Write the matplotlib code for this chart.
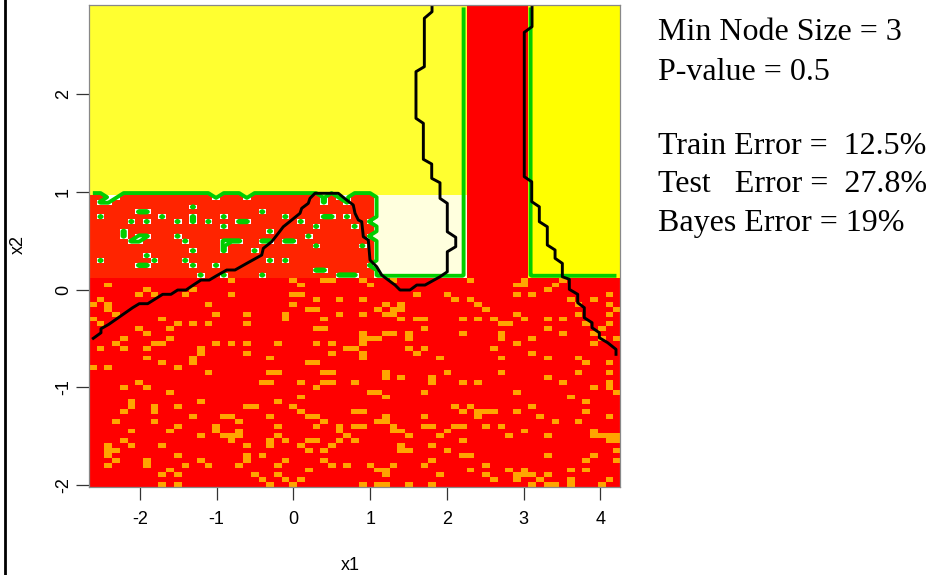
import numpy as np
import matplotlib
matplotlib.use("Agg")
import matplotlib.pyplot as plt
from matplotlib.lines import Line2D

plt.rcParams['font.family'] = ['Liberation Sans', 'DejaVu Sans']
plt.rcParams['axes.unicode_minus'] = False

# prediction grid: 69 columns (x1) by 99 rows (x2)
n_cols, n_rows = 69, 99
x_lo, x_hi = -2.663, 4.259
y_lo, y_hi = -2.020, 2.915

# node regions, in grid cells
low_rows = 43          # rows 0..42: red node
band_top = 60          # rows 43..59: middle band
band_left_cols = 37    # cols 0..36: red-orange node inside the band
strip_cols = (49, 57)  # red vertical strip
right_cols = 57        # cols 57..68: right yellow node

# orange cells in the red node, listed from the top row (x2 ~ 0.1) downwards
orange_cells = [
    [18, 26, 30, 31, 35, 39, 49, 56, 61],
    [2, 27, 36, 55, 56, 60],
    [7, 13, 59],
    [6, 8, 12, 18, 26, 27, 42, 46, 55, 57, 67],
    [1, 29, 32, 35, 47, 49, 62, 65],
    [0, 2, 15, 26, 38, 40, 50, 63, 67],
    [2, 28, 29, 37, 39, 40, 51, 68],
    [3, 16, 20, 25, 32, 35, 38, 39, 55, 63, 67],
    [0, 9, 25, 30, 40, 42, 43, 48, 50, 52, 56, 59, 61],
    [1, 11, 13, 15, 20, 53, 54, 64, 67],
    [6, 10, 29, 30, 43, 59, 66],
    [7, 35, 38, 39, 41, 48, 53, 61, 65],
    [4, 10, 35, 36, 37, 41, 53, 57, 66, 68],
    [3, 8, 9, 16, 18, 20, 24, 29, 31, 35, 55, 65],
    [1, 4, 7, 14, 33, 34, 41, 43, 52],
    [14, 20, 31, 35, 42, 57],
    [7, 13, 23, 35, 45, 53, 59, 63],
    [9, 13, 28, 29, 64, 67],
    [0, 2, 11],
    [15, 23, 24, 30, 31, 38, 46, 53, 63, 67],
    [38, 40, 44, 59],
    [6, 22, 23, 27, 30, 31, 34, 44, 48, 50, 61, 67],
    [4, 7, 29, 65, 67],
    [10, 36, 37, 43, 55, 68],
    [27, 38, 62],
    [5, 14, 24, 64],
    [5, 8, 11, 20, 21, 26, 47, 49, 57],
    [4, 8, 27, 34, 35, 48, 50, 51, 52, 55, 64],
    [13, 17, 18, 23, 28, 29, 38, 43, 50, 58, 67],
    [3, 8, 19, 30, 37, 38, 60, 63],
    [11, 16, 24, 29, 32, 34, 35, 39, 43, 44, 47, 48, 51, 53],
    [5, 10, 16, 19, 32, 39, 40, 46, 56, 65],
    [14, 17, 18, 19, 24, 33, 41, 45, 54, 59, 65, 66, 67, 68],
    [4, 18, 23, 25, 28, 29, 32, 34, 48, 67, 68],
    [2, 5, 9, 20, 23, 27, 31, 40, 44],
    [2, 3, 28, 30, 40, 41, 46, 68],
    [2, 11, 20, 22, 48, 49, 59, 65],
    [3, 7, 14, 20, 25, 30, 44, 64, 68],
    [2, 7, 12, 15, 19, 24, 31, 33, 36, 39, 43, 51],
    [10, 28, 37, 38, 49, 54, 56, 62, 64],
    [9, 11, 21, 24, 38, 45, 51, 55, 56, 57, 59],
    [22, 25, 27, 52, 55, 58, 62, 67],
    [9, 11, 23, 26, 35, 37, 38, 41, 44, 57, 59, 60, 62, 66],
]

# white (class 1) cells inside the red-orange node, from its top row downwards
white_cells = [
    [2, 3, 16, 20, 30, 32, 33],
    [1, 2, 30, 33],
    [13],
    [6, 7, 22],
    [1, 9, 13, 17, 25, 30, 31, 33],
    [5, 7, 11, 13, 15, 19, 20, 27, 36],
    [17, 29, 34],
    [4, 23],
    [4, 6, 7, 11, 28, 36],
    [5, 6, 12, 17, 18, 19, 22, 23, 25, 26],
    [17, 29, 35],
    [13, 17, 21],
    [7],
    [1, 8, 12, 23, 25],
    [6, 7, 13, 16, 36],
    [29, 30],
    [14, 17, 22, 32, 33, 34],
]

# Bayes decision boundary, two pieces
bayes1_x = [-2.607, -2.507, -2.507, -2.406, -2.094, -2.008, -1.898, -1.703, -1.595,
            -1.508, -1.399, -1.291, -1.204, -1.096, -1.008, -0.869, -0.761, -0.608,
            -0.413, -0.392, -0.283, -0.197, -0.132, -0.022, 0.086, 0.108, 0.194,
            0.216, 0.281, 0.585, 0.694, 0.780, 0.803, 0.846, 0.890, 0.911, 0.976,
            0.998, 1.085, 1.150, 1.236, 1.324, 1.389, 1.519, 1.607, 1.715, 1.910,
            2.005, 2.005, 2.115, 2.115, 2.005, 2.005, 1.910, 1.910, 1.802, 1.802,
            1.693, 1.693, 1.597, 1.597, 1.706, 1.706, 1.806, 1.806]
bayes1_y = [-0.500, -0.443, -0.402, -0.357, -0.186, -0.145, -0.145, -0.049, -0.049,
            -0.005, -0.005, 0.053, 0.097, 0.097, 0.138, 0.200, 0.200, 0.268,
            0.353, 0.422, 0.490, 0.576, 0.643, 0.712, 0.781, 0.832, 0.883,
            0.934, 0.986, 0.986, 0.917, 0.866, 0.781, 0.712, 0.695, 0.541, 0.507,
            0.302, 0.234, 0.149, 0.097, 0.046, -0.005, -0.005, 0.046, 0.046, 0.131,
            0.182, 0.387, 0.439, 0.535, 0.592, 0.883, 0.934, 1.094, 1.139, 1.286,
            1.334, 1.703, 1.754, 2.232, 2.283, 2.779, 2.846, 2.898]
bayes2_x = [3.109, 3.109, 3.008, 3.008, 3.105, 3.105, 3.204, 3.204, 3.308, 3.308,
            3.409, 3.409, 3.504, 3.504, 3.595, 3.595, 3.704, 3.704, 3.790, 3.790,
            3.891, 3.891, 3.986, 3.986, 4.095, 4.203, 4.203]
bayes2_y = [2.898, 2.693, 2.635, 1.156, 1.104, 0.900, 0.848, 0.695, 0.643, 0.456,
            0.405, 0.320, 0.268, 0.131, 0.105, 0.002, -0.049, -0.135, -0.186, -0.289,
            -0.340, -0.391, -0.443, -0.494, -0.545, -0.613, -0.664]

info_lines = ["Min Node Size = 3", "P-value = 0.5", "",
              "Train Error =  12.5%", "Test   Error =  27.8%", "Bayes Error = 19%"]

# ---- build the cell map ----
RED, ORANGE, REDORANGE, YELLOW, PALE, WHITE, YELLOW2 = range(7)
palette = np.array([
    [255, 0, 0],      # red
    [255, 165, 0],    # orange
    [255, 36, 0],     # red-orange
    [255, 255, 48],   # yellow
    [255, 255, 222],  # pale yellow
    [255, 255, 255],  # white
    [255, 255, 0],    # yellow (right node)
]) / 255.0

codes = np.full((n_rows, n_cols), RED)
codes[band_top:, :strip_cols[0]] = YELLOW
codes[low_rows:, right_cols:] = YELLOW2
codes[low_rows:band_top, :band_left_cols] = REDORANGE
codes[low_rows:band_top, band_left_cols:strip_cols[0]] = PALE
for j, cols in enumerate(orange_cells):
    codes[low_rows - 1 - j, cols] = ORANGE
for k, cols in enumerate(white_cells):
    codes[band_top - 1 - k, cols] = WHITE

rgb = palette[codes]
cls = np.isin(codes, [YELLOW, PALE, WHITE, YELLOW2]).astype(float)

dx = (x_hi - x_lo) / n_cols
dy = (y_hi - y_lo) / n_rows
xc = x_lo + (np.arange(n_cols) + 0.5) * dx
yc = y_lo + (np.arange(n_rows) + 0.5) * dy

# ---- draw ----
W, H = 932, 575
fig = plt.figure(figsize=(W / 100, H / 100), dpi=100)
ax = fig.add_axes([89 / W, 1 - 486.7 / H, (620.3 - 89) / W, (486.7 - 5) / H])

ax.imshow(rgb, origin='lower', extent=(x_lo, x_hi, y_lo, y_hi),
          aspect='auto', interpolation='nearest')
ax.contour(xc, yc, cls, levels=[0.85], colors='#00CD00', linewidths=2.8)
ax.plot(bayes1_x, bayes1_y, color='black', lw=2.1)
ax.plot(bayes2_x, bayes2_y, color='black', lw=2.1)

ax.set_xlim(x_lo, x_hi)
ax.set_ylim(y_lo, y_hi)
ax.set_xticks(range(-2, 5))
ax.set_yticks(range(-2, 3))
ax.tick_params(direction='out', length=9.4, width=0.9, color='#333333',
               labelsize=13)
ax.tick_params(axis='x', pad=8)
ax.tick_params(axis='y', pad=3)
for lab in ax.get_yticklabels():
    lab.set_rotation(90)
    lab.set_va('center')
for sp in ax.spines.values():
    sp.set_color('#888888')
    sp.set_linewidth(0.9)

fig.text(350 / W, 1 - 565 / H, 'x1', fontsize=13, ha='center', va='center')
fig.text(18 / W, 1 - 245 / H, 'x2', fontsize=13, ha='center', va='center',
         rotation=90)

line_y = [33, 72, 110, 147, 185, 223]
for txt, yy in zip(info_lines, line_y):
    if txt:
        fig.text(658 / W, 1 - yy / H, txt, family='Liberation Serif',
                 fontsize=23, ha='left', va='center')

# frame edge on the left of the page
fig.add_artist(Line2D([4.5 / W, 4.5 / W], [0, 1], transform=fig.transFigure,
                      color='black', lw=2))

fig.savefig('out.png', dpi=100)
